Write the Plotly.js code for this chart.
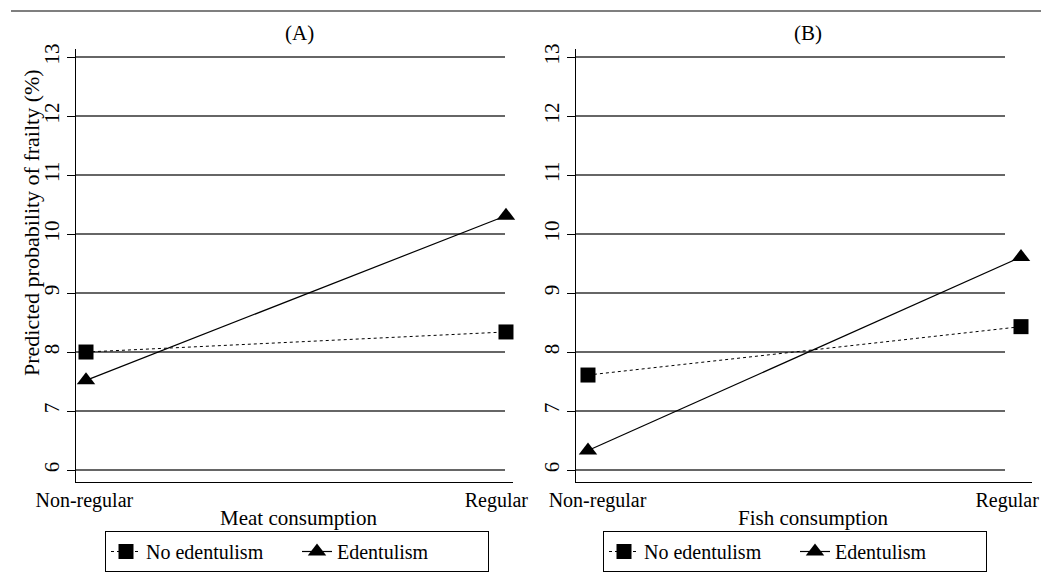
<!DOCTYPE html>
<html>
<head>
<meta charset="utf-8">
<script src="https://cdn.plot.ly/plotly-3.0.1.min.js"></script>
<style>html,body{margin:0;padding:0;background:#fff;}#chart{width:1041px;height:572px;}</style>
</head>
<body>
<div id="chart"></div>
<script>
// ---- data ----
const categories = ['Non-regular', 'Regular'];
const meatNoEdent = [8.00, 8.34];
const meatEdent = [7.52, 10.31];
const fishNoEdent = [7.61, 8.43];
const fishEdent = [6.33, 9.61];
const yTicks = [6, 7, 8, 9, 10, 11, 12, 13];
const seriesNames = ['No edentulism', 'Edentulism'];
const panelTitles = ['(A)', '(B)'];
const xTitles = ['Meat consumption', 'Fish consumption'];
const yTitle = 'Predicted probability of frailty (%)';

const W = 1041, H = 572;
const FONT = 'Liberation Serif';
const px = v => v / W, py = v => 1 - v / H;
const xIdx = categories.map((c, i) => i);

function noEdTrace(y, xa, ya, leg) {
  return {x: xIdx, y: y, xaxis: xa, yaxis: ya, legend: leg, name: seriesNames[0],
    mode: 'lines+markers', type: 'scatter', cliponaxis: false,
    line: {color: '#000', width: 1, dash: 'dot'},
    marker: {symbol: 'square', size: 15, color: '#000'}};
}
function edTrace(y, xa, ya, leg) {
  return {x: xIdx, y: y, xaxis: xa, yaxis: ya, legend: leg, name: seriesNames[1],
    mode: 'lines+markers', type: 'scatter', cliponaxis: false,
    line: {color: '#000', width: 1.2},
    marker: {symbol: 'triangle-up', size: 16, color: '#000'}};
}

const traces = [
  noEdTrace(meatNoEdent, 'x', 'y', 'legend'),
  edTrace(meatEdent, 'x', 'y', 'legend'),
  noEdTrace(fishNoEdent, 'x2', 'y2', 'legend2'),
  edTrace(fishEdent, 'x2', 'y2', 'legend2')
];

const yDom = [py(482), py(49)];
const yRange = [5.797, 13.136];

function yAxis(anchor) {
  return {domain: yDom, range: yRange, anchor: anchor, tickvals: yTicks, tickangle: -90,
    ticks: 'outside', ticklen: 8, tickcolor: '#000', tickwidth: 1,
    showgrid: false, zeroline: false, showline: true, linecolor: '#000', linewidth: 1,
    tickfont: {family: FONT, size: 21, color: '#000'}, fixedrange: true};
}
// label positions (slightly offset from the data positions, as in the reference)
function xAxis(dom, rng, anchor, labelPos) {
  return {domain: dom, range: rng, anchor: anchor, type: 'linear',
    tickmode: 'array', tickvals: labelPos, ticktext: categories,
    ticks: '', showgrid: false, zeroline: false, showline: true, linecolor: '#000', linewidth: 1,
    tickfont: {family: FONT, size: 20, color: '#000'}, fixedrange: true};
}

const shapes = [];
yTicks.forEach(v => {
  shapes.push({type: 'line', xref: 'x domain', yref: 'y', x0: 0, x1: (505 - 76) / 437, y0: v, y1: v,
    line: {color: '#333', width: 1.3}, layer: 'below'});
  shapes.push({type: 'line', xref: 'x2 domain', yref: 'y2', x0: 0, x1: (1005 - 576) / 456, y0: v, y1: v,
    line: {color: '#333', width: 1.3}, layer: 'below'});
});
shapes.push({type: 'line', xref: 'paper', yref: 'paper', x0: px(11), x1: 1, y0: py(11), y1: py(11),
  line: {color: '#555', width: 1.5}});

function ann(text, x, y, size, angle) {
  return {text: text, x: px(x), y: py(y), xref: 'paper', yref: 'paper', showarrow: false,
    textangle: angle || 0, xanchor: 'center', yanchor: 'middle',
    font: {family: FONT, size: size, color: '#000'}};
}
const annotations = [
  ann(panelTitles[0], 299, 33, 21),
  ann(panelTitles[1], 808, 33, 21),
  ann(xTitles[0], 298, 518, 21),
  ann(xTitles[1], 813, 518, 21),
  ann(yTitle, 32, 223, 22, -90)
];

function legendCfg(cx) {
  return {x: px(cx), y: py(531), xanchor: 'center', yanchor: 'top', orientation: 'h',
    bordercolor: '#000', borderwidth: 1, bgcolor: '#fff', entrywidth: 146, entrywidthmode: 'pixels',
    font: {family: FONT, size: 20, color: '#000'}, itemclick: false, itemdoubleclick: false};
}

const layout = {
  width: W, height: H, margin: {l: 0, r: 0, t: 0, b: 0},
  paper_bgcolor: '#fff', plot_bgcolor: '#fff', showlegend: true, hovermode: false,
  font: {family: FONT, color: '#000'},
  xaxis: xAxis([px(76), px(513)], [-0.0238, 1.0167], 'y', [-0.004, 0.977]),
  yaxis: yAxis('x'),
  xaxis2: xAxis([px(576), px(1032)], [-0.0277, 1.0254], 'y2', [0.022, 0.968]),
  yaxis2: yAxis('x2'),
  legend: legendCfg(297),
  legend2: legendCfg(795),
  shapes: shapes,
  annotations: annotations
};

Plotly.newPlot('chart', traces, layout, {displayModeBar: false, staticPlot: true});
</script>
</body>
</html>
